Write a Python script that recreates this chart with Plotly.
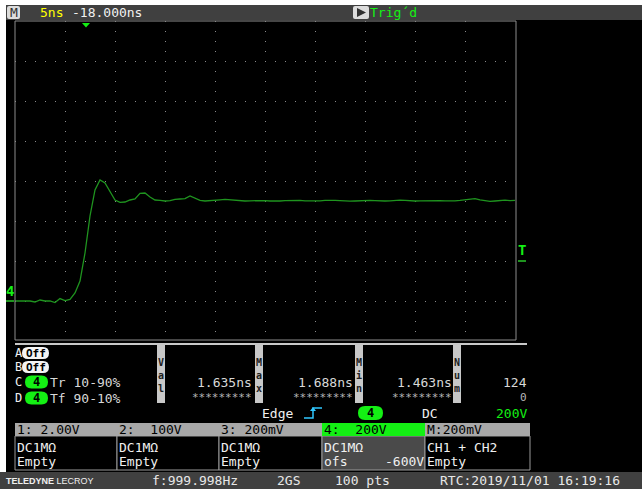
import plotly.graph_objects as go

W, H = 642, 489
MONO = "DejaVu Sans Mono"

# ---- Channel 4 acquisition (2 GS/s, 0.5 ns per sample) ----
t_ns = [-7.0, -6.5, -6.0, -5.5, -5.0, -4.5, -4.0, -3.5, -3.0, -2.5,
        -2.0, -1.5, -1.0, -0.5, 0.0, 0.5, 1.0, 1.5, 2.0, 2.5,
        3.0, 3.5, 4.0, 4.5, 5.0, 5.5, 6.0, 6.5, 7.0, 7.5,
        8.0, 8.5, 9.0, 9.5, 10.0, 10.5, 11.0, 11.5, 12.0, 12.5,
        13.0, 13.5, 14.0, 14.5, 15.0, 15.5, 16.0, 16.5, 17.0, 17.5,
        18.0, 18.5, 19.0, 19.5, 20.0, 20.5, 21.0, 21.5, 22.0, 22.5,
        23.0, 23.5, 24.0, 24.5, 25.0, 25.5, 26.0, 26.5, 27.0, 27.5,
        28.0, 28.5, 29.0, 29.5, 30.0, 30.5, 31.0, 31.5, 32.0, 32.5,
        33.0, 33.5, 34.0, 34.5, 35.0, 35.5, 36.0, 36.5, 37.0, 37.5,
        38.0, 38.5, 39.0, 39.5, 40.0, 40.5, 41.0, 41.5, 42.0, 42.5,
        43.0]
ch4_volts = [0, 0, 0, 0, -5, 5, 0, 0, -8, 12,
             2, 8, 40, 100, 240, 425, 555, 605, 590, 545,
             505, 493, 495, 505, 510, 538, 540, 520, 505, 503,
             500, 502, 508, 510, 512, 525, 515, 503, 500, 501,
             503, 506, 508, 506, 503, 501, 500, 501, 502, 503,
             502, 500, 499, 500, 502, 503, 504, 503, 501, 500,
             500, 501, 503, 504, 503, 502, 500, 499, 500, 502,
             503, 503, 502, 500, 500, 501, 503, 504, 503, 501,
             500, 501, 502, 503, 503, 502, 501, 500, 501, 503,
             505, 508, 512, 506, 502, 498, 500, 503, 504, 502,
             503]

# ---- screen settings ----
time_range = [-7, 43]        # 5 ns/div, 10 div
volt_range = [-200, 1400]    # 200 V/div, 8 div, offset -600 V
time_div, volt_div = 5, 200

# ---- readouts ----
meas_names = ["Val", "Max", "Min", "Num"]
meas_rows = ["A", "B", "C", "D"]
meas_params = ["Tr 10-90%", "Tf 90-10%"]
meas_c = ["1.635ns", "1.688ns", "1.463ns", "124"]
meas_d = ["*********", "*********", "*********", "0"]
ch_headers = ["1: 2.00V", "2:  100V", "3: 200mV", "4:  200V", "M:200mV"]
ch_line1 = ["DC1MΩ", "DC1MΩ", "DC1MΩ", "DC1MΩ", "CH1 + CH2"]
ch_line2 = ["Empty", "Empty", "Empty", "ofs", "Empty"]
status = ["f:999.998Hz", "2GS", "100 pts", "RTC:2019/11/01 16:19:16"]

GREEN = "#14f014"
TRACE = "#1f941f"
GRAY_BAR = "#404040"
LIGHT = "#c8c8c8"

# plot area in screen pixels
PX0, PX1, PY0, PY1 = 15, 515, 21, 341


def px(x):
    return x / W


def py(y):
    return 1 - y / H


shapes = []
annotations = []


def rect(x0, y0, x1, y1, fill=None, line=None, lw=1):
    shapes.append(dict(type="rect", xref="paper", yref="paper",
                       x0=px(x0), x1=px(x1), y0=py(y0), y1=py(y1),
                       fillcolor=fill if fill else "rgba(0,0,0,0)",
                       line=dict(color=line if line else "rgba(0,0,0,0)",
                                 width=lw if line else 0),
                       layer="above"))


def poly(points, fill=None, line=None, lw=1, closed=True):
    d = "M " + " L ".join(f"{px(x):.5f},{py(y):.5f}" for x, y in points)
    if closed:
        d += " Z"
    shapes.append(dict(type="path", xref="paper", yref="paper", path=d,
                       fillcolor=fill if fill else "rgba(0,0,0,0)",
                       line=dict(color=line if line else "rgba(0,0,0,0)",
                                 width=lw if line else 0),
                       layer="above"))


def rrect(x0, y0, x1, y1, r, fill):
    P = lambda x, y: f"{px(x):.5f},{py(y):.5f}"
    d = (f"M {P(x0 + r, y0)} L {P(x1 - r, y0)} Q {P(x1, y0)} {P(x1, y0 + r)} "
         f"L {P(x1, y1 - r)} Q {P(x1, y1)} {P(x1 - r, y1)} "
         f"L {P(x0 + r, y1)} Q {P(x0, y1)} {P(x0, y1 - r)} "
         f"L {P(x0, y0 + r)} Q {P(x0, y0)} {P(x0 + r, y0)} Z")
    shapes.append(dict(type="path", xref="paper", yref="paper", path=d,
                       fillcolor=fill, line=dict(width=0), layer="above"))


def text(x, y, s, color="#e8e8e8", size=13, anchor="left", family=MONO):
    annotations.append(dict(xref="paper", yref="paper", x=px(x), y=py(y),
                            text=s, showarrow=False, xanchor=anchor,
                            yanchor="middle", borderpad=0, borderwidth=0,
                            font=dict(family=family, size=size, color=color)))


# ---- outer border and status bars ----
rect(0, 0, W, 5, fill="#ffffff")
rect(0, 0, 6, 472, fill="#ffffff")
rect(6, 5, W, 20, fill=GRAY_BAR)
rect(0, 472, W, H, fill=GRAY_BAR)

# top bar
rrect(7, 6, 20, 19, 2, "#dcdcdc")
text(13.5, 12.5, "M", color="#303030", anchor="center")
text(40, 12.5, "5ns", color="#ffff00")
text(72, 12.5, "-18.000ns", color="#f0f0f0")
rrect(353, 6, 369, 19, 2, "#dcdcdc")
poly([(357, 8), (357, 17), (366, 12.5)], fill="#303030")
text(370, 12.5, "Trig´d", color=GREEN)

# grid frame
rect(PX0, PY0, PX1 + 1, PY1 - 1, line="#8c8c8c", lw=1)

# trigger position / level and ground markers
poly([(82, 23), (90, 23), (86, 27.5)], fill=GREEN)
text(10.5, 291, "<b>4</b>", color=GREEN, size=14, anchor="center")
rect(6, 300, 14, 302, fill=TRACE)
text(521.5, 250, "<b>T</b>", color=GREEN, size=14, anchor="center")
rect(518, 260, 526, 262, fill=TRACE)

# ---- measurement table ----
rect(15, 343, 527, 345, fill=LIGHT)
bar_x = [157, 255, 355, 453]
val_right = [252, 353, 452, 527]
for bx, name in zip(bar_x, meas_names):
    rect(bx, 343, bx + 8, 403, fill=LIGHT)
    text(bx + 4, 375, "<b>" + "<br>".join(name) + "</b>", color="#202020",
         size=10, anchor="center")

row_y = [353, 367, 382, 398]
for r, yy in zip(meas_rows, row_y):
    text(15, yy, r, color="#f0f0f0", size=12)
for yy in row_y[:2]:
    rrect(22, yy - 6, 49, yy + 6, 6, "#f4f4f4")
    text(35.5, yy, "<b>Off</b>", color="#000000", size=11, anchor="center")
for yy, prm in zip(row_y[2:], meas_params):
    rrect(25, yy - 6.5, 48, yy + 6.5, 6.5, GREEN)
    text(36.5, yy, "<b>4</b>", color="#000000", size=12, anchor="center")
    text(50, yy, prm, color="#d8d8d8")
for xr, vc, vd in zip(val_right, meas_c, meas_d):
    text(xr, 382, vc, color="#d8d8d8", anchor="right")
    text(xr, 397.5, vd, color="#b8b8b8", size=11, anchor="right")

# trigger setup line
text(262, 413, "Edge", color="#f0f0f0")
poly([(304, 418), (313, 418), (313, 408), (322, 408)], line="#30c8ff", lw=1.5,
     closed=False)
poly([(310, 411), (316, 411), (313, 407)], fill="#30c8ff")
rrect(358, 406, 383, 420, 7, GREEN)
text(370.5, 413, "<b>4</b>", color="#000000", size=12, anchor="center")
text(422, 413, "DC", color="#f0f0f0")
text(527, 413, "200V", color=GREEN, anchor="right")

# ---- channel descriptor boxes ----
edges = [15, 117, 219, 322, 425, 530]
for i in range(5):
    x0, x1 = edges[i], edges[i + 1]
    head = GREEN if i == 3 else "#a8a8a8"
    body = "#4a4a4a" if i == 3 else "#000000"
    rect(x0, 436, x1, 470, fill=body, line="#9a9a9a")
    rect(x0, 423, x1, 436, fill=head)
    text(x0 + 2, 429.5, ch_headers[i], color="#000000")
    text(x0 + 2, 447, ch_line1[i], color="#f0f0f0")
    text(x0 + 2, 461, ch_line2[i], color="#f0f0f0")
text(424, 461, "-600V", color="#f0f0f0", anchor="right")

# ---- bottom status bar ----
text(6, 480.5, "<b>TELEDYNE</b> LECROY", color="#f0f0f0", size=9,
     family="Liberation Sans")
for xs, s in zip([152, 277, 335, 440], status):
    text(xs, 480.5, s, color="#e8e8e8")

# ---- waveform ----
fig = go.Figure()
fig.add_trace(go.Scatter(x=t_ns, y=ch4_volts, mode="lines",
                         line=dict(color=TRACE, width=1.3),
                         hoverinfo="skip", showlegend=False))

grid = dict(showgrid=True, gridcolor="#8a8a8a", gridwidth=1,
            griddash="1px,9px", zeroline=False, showline=False,
            showticklabels=False, ticks="", fixedrange=True)
fig.update_layout(
    width=W, height=H, margin=dict(l=0, r=0, t=0, b=0),
    paper_bgcolor="#000000", plot_bgcolor="#000000",
    xaxis=dict(domain=[PX0 / W, PX1 / W], range=time_range,
               tick0=time_range[0], dtick=time_div, **grid),
    yaxis=dict(domain=[1 - PY1 / H, 1 - PY0 / H], range=volt_range,
               tick0=0, dtick=volt_div, **grid),
    shapes=shapes, annotations=annotations, showlegend=False,
)
fig.write_html("out.html")
